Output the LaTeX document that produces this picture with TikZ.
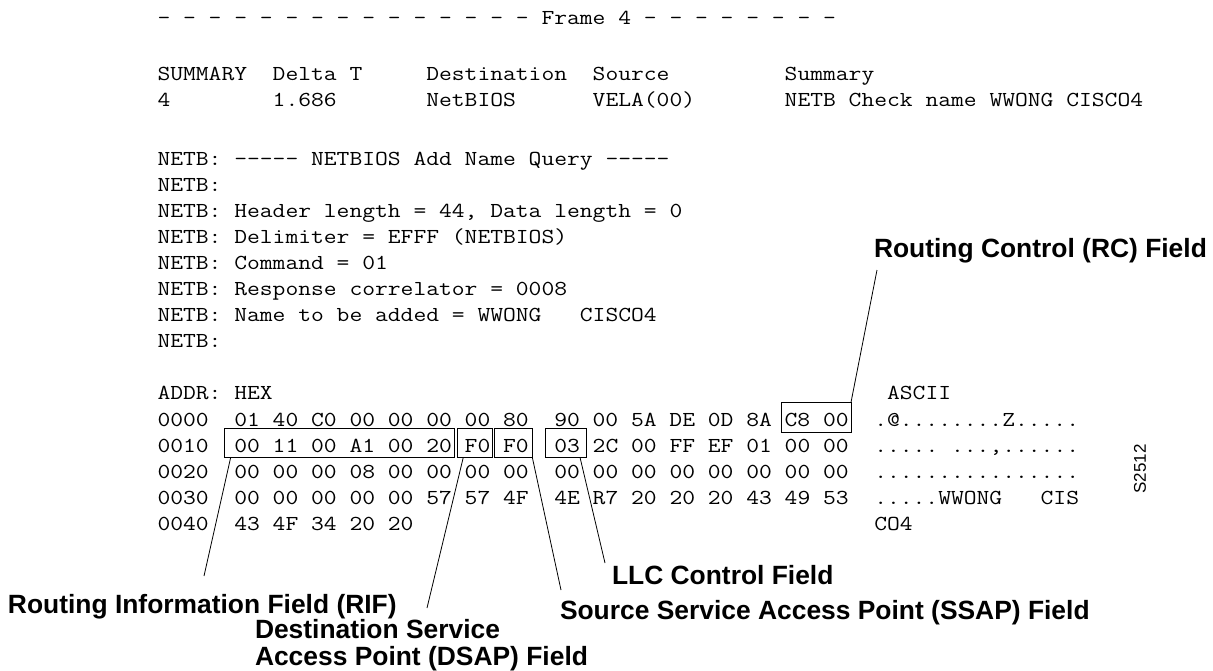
\documentclass[tikz,border=0pt]{standalone}
\usepackage{fontspec}
\setsansfont{Liberation Sans}
\usepackage{graphicx}
\newlength\mycw
\newcommand\mytt[3]{%
  \settowidth\mycw{\fontsize{#1pt}{#1pt}\ttfamily 0}%
  \pgfmathsetmacro\mysx{#2/\mycw}%
  \scalebox{\mysx}[1]{\fontsize{#1pt}{#1pt}\ttfamily #3}}
\newcommand\tx[1]{\mytt{21.33}{12.8}{#1}}
\newcommand\dd{-\kern0pt}
\begin{document}
\begin{tikzpicture}[x=1pt,y=-1pt,
  mono/.style={anchor=base west,inner sep=0pt,outer sep=0pt},
  lbl/.style={anchor=base west,inner sep=0pt,outer sep=0pt,font=\fontsize{26.4pt}{29pt}\sffamily\bfseries},
  fieldbox/.style={draw,line width=0.9pt,inner sep=0pt,outer sep=0pt,anchor=north west},
  lead/.style={draw,line width=0.8pt}]
\fill[white] (0,0) rectangle (1213,670);
\useasboundingbox (0,0) rectangle (1213,670);

% frame line
\node[mono] (frame) at (157.5,24.6) {\tx{-~-~-~-~-~-~-~-~-~-~-~-~-~-~-~Frame~4~-~-~-~-~-~-~-~-}};

% summary header
\node[mono] (hsum) at (157.5,80) {\tx{SUMMARY}};
\node[mono] (hdt)  at (272.7,80) {\tx{Delta~T}};
\node[mono] (hdst) at (426.3,80) {\tx{Destination}};
\node[mono] (hsrc) at (592.7,80) {\tx{Source}};
\node[mono] (hsm)  at (784.7,80) {\tx{Summary}};
\node[mono] (dnum) at (157.5,106.5) {\tx{4}};
\node[mono] (ddt)  at (272.7,106.5) {\tx{1.686}};
\node[mono] (ddst) at (426.3,106.5) {\tx{NetBIOS}};
\node[mono] (dsrc) at (592.7,106.5) {\tx{VELA(00)}};
\node[mono] (dsm)  at (784.7,106.5) {\tx{NETB~Check~name~WWONG~CISCO4}};

% NETB lines
\node[mono] (n0) at (157.5,165.5) {\tx{NETB:~\dd\dd\dd\dd\dd~NETBIOS~Add~Name~Query~\dd\dd\dd\dd\dd}};
\node[mono] (n1) at (157.5,191.5) {\tx{NETB:}};
\node[mono] (n2) at (157.5,217.5) {\tx{NETB:~Header~length~=~44,~Data~length~=~0}};
\node[mono] (n3) at (157.5,243.5) {\tx{NETB:~Delimiter~=~EFFF~(NETBIOS)}};
\node[mono] (n4) at (157.5,269.5) {\tx{NETB:~Command~=~01}};
\node[mono] (n5) at (157.5,295.5) {\tx{NETB:~Response~correlator~=~0008}};
\node[mono] (n6) at (157.5,321.5) {\tx{NETB:~Name~to~be~added~=~WWONG~~~CISCO4}};
\node[mono] (n7) at (157.5,347.5) {\tx{NETB:}};

% hex dump
\node[mono] (addr) at (157.5,399.5) {\tx{ADDR:~HEX}};
\node[mono] (ascii) at (887.1,399.5) {\tx{ASCII}};
\node[mono] (r0) at (157.5,426) {\tx{0000~~01~40~C0~00~00~00~00~80~~90~00~5A~DE~0D~8A~C8~00~~.@........Z.....}};
\node[mono] (r1) at (157.5,452) {\tx{0010~~00~11~00~A1~00~20~F0~F0~~03~2C~00~FF~EF~01~00~00~~.....~...,......}};
\node[mono] (r2) at (157.5,478) {\tx{0020~~00~00~00~08~00~00~00~00~~00~00~00~00~00~00~00~00~~................}};
\node[mono] (r3) at (157.5,504) {\tx{0030~~00~00~00~00~00~57~57~4F~~4E~R7~20~20~20~43~49~53~~.....WWONG~~~CIS}};
\node[mono] (r4) at (157.5,530) {\tx{0040~~43~4F~34~20~20}};
\node[mono] (r4a) at (874.3,530) {\tx{CO4}};

% field boxes
\node[fieldbox,minimum width=69.3pt,minimum height=30pt] (c8box) at (781.7,402.3) {};
\node[fieldbox,minimum width=230.3pt,minimum height=29pt] (rifbox) at (224,428.3) {};
\node[fieldbox,minimum width=34.6pt,minimum height=29pt] (f0a) at (457.7,428.3) {};
\node[fieldbox,minimum width=37.6pt,minimum height=29pt] (f0b) at (494.7,428.3) {};
\node[fieldbox,minimum width=41pt,minimum height=29pt] (llcbox) at (545.7,428.3) {};

% labels
\node[lbl] (rc) at (874,257) {Routing Control (RC) Field};
\node[lbl] (llc) at (612,584) {LLC Control Field};
\node[lbl] (ssap) at (560,619) {Source Service Access Point (SSAP) Field};
\node[lbl] (rif) at (8,613) {Routing Information Field (RIF)};
\node[lbl] (dsap1) at (255,638.5) {Destination Service};
\node[lbl] (dsap2) at (255,665) {Access Point (DSAP) Field};

% leader ends
\coordinate (rcend) at (877,270);
\coordinate (rifend) at (204,576);
\coordinate (dsapend) at (427,608);
\coordinate (ssapend) at (561,590);
\coordinate (llcend) at (605,563);

\draw[lead] (c8box.north east) -- (rcend);
\draw[lead] ([xshift=6.7pt]rifbox.south west) -- (rifend);
\draw[lead] ([xshift=5.6pt]f0a.south west) -- (dsapend);
\draw[lead] (f0b.south east) -- (ssapend);
\draw[lead] ([xshift=-6.7pt]llcbox.south east) -- (llcend);

% figure id
\node[rotate=90,inner sep=0pt,font=\fontsize{17pt}{17pt}\sffamily] (sid) at (1140,469) {S2512};
\end{tikzpicture}
\end{document}
